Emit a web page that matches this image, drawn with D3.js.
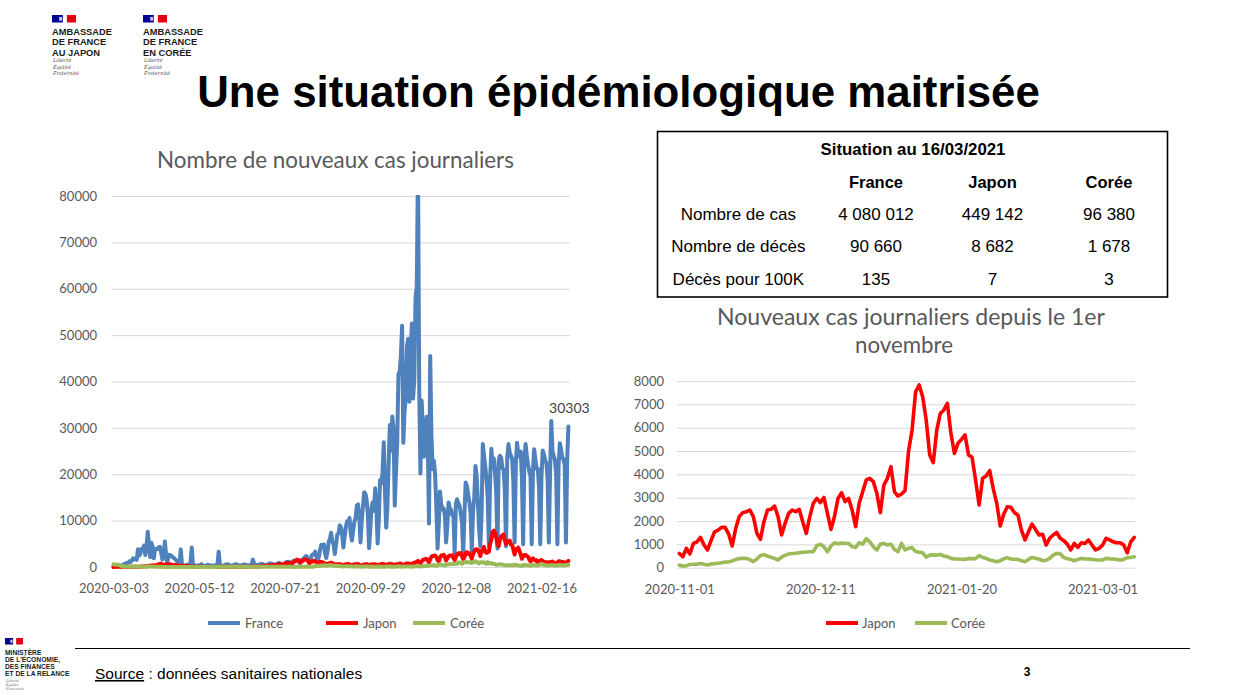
<!DOCTYPE html>
<html><head><meta charset="utf-8">
<script src="https://cdn.jsdelivr.net/npm/d3@7"></script>
<style>body{margin:0;background:#fff}svg{display:block}</style>
</head><body>
<svg id="chart" width="1238" height="695"></svg>
<script>
// ---------------- DATA ----------------
const leftStart = "2020-03-03";
const rightStart = "2020-11-01";
const endDate = "2021-03-10";
const leftXTicks = ["2020-03-03","2020-05-12","2020-07-21","2020-09-29","2020-12-08","2021-02-16"];
const rightXTicks = ["2020-11-01","2020-12-11","2021-01-20","2021-03-01"];
const leftYTicks = [0,10000,20000,30000,40000,50000,60000,70000,80000];
const rightYTicks = [0,1000,2000,3000,4000,5000,6000,7000,8000];
const seriesNames = ["France","Japon","Corée"];
const seriesColors = ["#4F81BD","#FF0000","#9BBB59"];

// France: daily new cases from 2020-03-03 to 2021-03-10 (rows of 7 days)
const france = [
20,70,140,190,340,180,290,
370,500,600,790,840,920,1210,
1100,1400,1860,1620,1850,1560,3840,
2450,2930,3920,3810,4610,2600,4380,
7580,4860,2120,5230,4270,1870,3910,
3780,3880,4290,4340,3110,1610,2670,
5500,2630,800,2640,2570,2500,2200,
2000,1800,1500,1200,900,500,3800,
500,400,350,300,450,400,600,
1000,4200,500,400,350,300,250,
400,350,600,300,250,200,350,
500,400,300,350,250,200,400,
300,400,3300,600,300,250,300,
400,500,600,550,400,250,300,
400,500,600,500,400,300,350,
400,450,550,500,400,300,350,
500,600,1600,700,500,400,400,
500,600,700,600,500,400,450,
550,650,800,700,650,500,400,
600,700,900,800,700,500,600,
800,1000,1100,1130,1000,700,900,
1300,1400,1400,1350,1300,900,1000,
1600,1700,1900,2300,2300,1300,1400,
1400,2500,2700,2850,3300,2000,1600,
2200,3800,4770,4590,4900,3000,1950,
3300,5430,6110,7380,5450,4900,2800,
4980,7020,7160,8980,8550,7070,4200,
6540,8580,9840,9410,10560,7180,5700,
7850,9780,10590,13220,13500,10570,5300,
10010,13070,16100,15800,14410,11120,4070,
8050,12850,13970,12150,16970,12570,5080,
10490,18750,18130,20340,26900,16100,8500,
12990,22590,30620,25090,32430,29840,13240,
20470,26680,41620,42030,45420,52010,26770,
33420,36440,47640,49220,35640,46290,52520,
36330,40560,58050,60490,86850,38620,20160,
35880,29000,23800,28000,32400,27200,9400,
45500,28400,21150,22900,20000,13200,4000,
9160,16280,13560,12460,12580,11020,5300,
9000,13900,12700,12400,11200,11000,3100,
13700,14600,13750,13200,11530,9600,2800,
11530,18200,17500,15670,14000,11700,3500,
12000,15000,21800,19500,14000,8000,4500,
11400,26500,24000,21800,19000,15000,4500,
19000,25500,21700,23400,20200,15900,4000,
23000,24000,23600,21300,21000,16600,4500,
23600,26500,24700,24000,23300,18300,5300,
22100,26800,24300,23800,24900,19200,4900,
23300,26500,24000,22100,20600,19700,4900,
20600,25400,23200,21200,21200,17000,4900,
19600,25100,24300,23000,22400,19000,5300,
20100,31500,25000,24000,23000,20000,4900,
22000,26700,25400,23500,23300,21800,5300,
23000,30303];

// Japan: 2020-03-03 .. 2020-10-31
const japanToOct = [
15,30,30,55,45,40,25,
55,50,55,60,40,60,15,
40,45,40,55,50,40,40,
70,95,95,110,200,190,90,
220,260,240,350,360,380,250,
350,520,580,710,700,560,400,
480,550,580,560,580,570,370,
390,440,430,400,350,200,170,
280,250,180,170,300,200,90,
120,100,130,100,90,40,70,
80,50,95,60,30,25,20,
30,40,30,25,20,15,20,
30,35,60,40,45,50,30,
50,30,45,40,45,50,25,
40,40,45,40,40,50,70,
40,40,40,40,60,80,50,
70,100,110,100,90,130,90,
130,120,190,250,270,210,210,
200,330,350,430,390,410,260,
340,470,600,620,600,500,420,
630,800,980,770,820,920,600,
1000,1250,1300,1600,1540,1330,960,
1250,1350,1600,1600,1560,1440,800,
1000,1180,1180,1360,1230,1010,700,
1000,1110,1080,1030,900,750,480,
660,750,880,900,850,600,420,
580,600,590,620,560,440,280,
520,520,640,650,560,420,280,
500,580,590,580,640,470,290,
270,500,550,530,640,500,320,
470,570,560,550,600,460,270,
500,540,630,690,600,500,310,
540,620,700,620,620,420,380,
600,610,560,750,700,530,350,
510,700,780,760,690];

// Japan: 2020-11-01 .. 2021-03-10
const japanFromNov = [
610,470,830,590,1040,1110,1300,970,760,1160,
1540,1610,1730,1730,1440,930,1690,2190,2360,2400,
2470,2190,1470,1210,1970,2470,2500,2640,2190,1400,
1900,2330,2470,2400,2500,1970,1470,2190,2760,2970,
2790,3010,2330,1640,2190,2970,3210,2830,2970,2470,
1760,2760,3260,3760,3830,3690,3190,2360,3540,3830,
4330,3250,3070,3160,
3300,5000,5900,7540,7830,7330,6330,4830,4500,5900,
6610,6760,7040,5760,4900,5330,5500,5690,4830,4730,
3760,2690,3830,3930,4160,3400,2760,1790,2300,2610,
2590,2360,2260,1610,1190,1540,1870,1640,1400,1430,
970,1260,1400,1510,1260,1160,1010,760,1040,870,
1070,1040,1190,970,760,830,970,1260,1190,1110,
1070,1070,970,640,1110,1300];

// Korea: 2020-03-03 .. 2020-10-31
const koreaToOct = [
600,520,440,520,480,370,250,
130,240,115,110,105,75,75,
85,95,150,90,150,100,65,
75,100,105,90,145,105,80,
125,100,90,85,95,80,45,
50,40,40,25,30,30,25,
25,25,20,20,20,10,15,
10,10,10,5,10,10,10,
15,10,5,10,5,15,10,
5,5,5,15,20,35,30,
25,25,30,25,20,15,15,
15,30,20,25,25,15,20,
20,40,80,60,40,30,35,
40,50,40,40,55,55,40,
40,50,45,55,50,35,35,
35,45,60,50,65,50,15,
45,50,30,40,50,60,40,
40,50,55,60,60,60,50,
45,65,50,35,45,35,60,
35,40,55,60,40,35,45,
45,60,65,40,115,60,25,
50,20,35,35,30,25,35,
35,20,40,45,35,30,35,
50,55,55,105,165,280,200,
245,300,290,325,330,400,265,
280,320,440,370,325,300,250,
235,265,200,200,170,170,120,
135,155,175,175,135,120,110,
105,115,155,125,110,80,70,
60,110,125,115,115,95,50,
40,110,75,60,65,65,75,
115,70,55,55,70,60,95,
100,85,110,50,75,60,75,
60,90,120,155,75,60,120,
90,110,125,115,125];

// Korea: 2020-11-01 .. 2021-03-10
const koreaFromNov = [
115,60,80,140,150,145,185,150,120,160,
175,190,215,240,255,290,350,390,400,400,
340,260,370,520,560,500,450,400,330,450,
530,590,610,620,640,660,670,685,690,950,
1000,900,685,930,1070,1030,1060,1050,1040,900,
870,1070,1010,1240,1110,900,760,1010,1040,970,
1010,780,690,1040,760,830,860,690,660,640,
450,540,550,540,
570,500,470,400,370,370,360,355,400,380,
390,515,440,400,330,300,255,300,380,430,
370,360,355,300,255,355,440,400,370,300,
320,400,540,615,600,440,380,355,300,355,
400,370,370,355,340,330,330,400,380,370,
355,330,355,430,440,470];

const tableTitle = "Situation au 16/03/2021";
const tableCols = ["France","Japon","Corée"];
const tableRows = ["Nombre de cas","Nombre de décès","Décès pour 100K"];
const tableValues = [["4 080 012","449 142","96 380"],["90 660","8 682","1 678"],["135","7","3"]];

// ---------------- DRAW ----------------
const svg = d3.select("#chart");
const CF = "Lato, 'Open Sans', sans-serif";
const AF = "'Liberation Sans', Arial, sans-serif";
const GREY = "#595959";
const parse = d3.utcParse("%Y-%m-%d");
const fmt = d3.utcFormat("%Y-%m-%d");

function fit(sel, w){
  const L = sel.node().getComputedTextLength();
  if (L > 0) sel.attr("font-size", parseFloat(sel.attr("font-size")) * w / L);
  return sel;
}
function txt(x, y, s, size, opts = {}){
  const t = svg.append("text").attr("x", x).attr("y", y).text(s)
    .attr("font-size", size).attr("font-family", opts.family || AF)
    .attr("fill", opts.fill || "#000")
    .attr("text-anchor", opts.anchor || "start");
  if (opts.bold) t.attr("font-weight", "bold");
  if (opts.italic) t.attr("font-style", "italic");
  if (opts.width) fit(t, opts.width);
  return t;
}

// logos
function flag(x, y, w, h){
  svg.append("rect").attr("x", x).attr("y", y).attr("width", w*0.45).attr("height", h).attr("fill", "#000091");
  svg.append("rect").attr("x", x + w*0.62).attr("y", y).attr("width", w*0.38).attr("height", h).attr("fill", "#E1000F");
  svg.append("rect").attr("x", x + w*0.3).attr("y", y + h*0.25).attr("width", w*0.12).attr("height", h*0.5).attr("fill", "#c9c9e6");
}
function embassy(x, lines){
  flag(x, 15, 24, 7.5);
  txt(x, 34.5, lines[0], 9.3, {bold:true, fill:"#1a1a1a"});
  txt(x, 45, lines[1], 9.3, {bold:true, fill:"#1a1a1a"});
  txt(x, 55.5, lines[2], 9.3, {bold:true, fill:"#1a1a1a"});
  ["Liberté","Égalité","Fraternité"].forEach((s, i) =>
    txt(x + 1, 62 + i*6.7, s, 5, {italic:true, fill:"#444", family:"'DejaVu Serif', serif"}));
}
embassy(52, ["AMBASSADE","DE FRANCE","AU JAPON"]);
embassy(143, ["AMBASSADE","DE FRANCE","EN CORÉE"]);

// title
txt(618.5, 107, "Une situation épidémiologique maitrisée", 40, {bold:true, anchor:"middle", width:843});

// ---------- chart helper ----------
function lineChart(cfg){
  const g = svg.append("g");
  const x = d3.scaleUtc().domain([parse(cfg.start), parse(endDate)]).range(cfg.xr);
  const y = d3.scaleLinear().domain([0, cfg.ymax]).range(cfg.yr);
  const ya = g.append("g").attr("transform", `translate(${cfg.gx[0]},0)`)
    .call(d3.axisLeft(y).tickValues(cfg.yTicks).tickSize(-(cfg.gx[1]-cfg.gx[0])).tickPadding(cfg.pad).tickFormat(d3.format("d")));
  ya.select(".domain").remove();
  ya.selectAll("line").attr("stroke", "#D9D9D9").attr("stroke-width", 1);
  ya.selectAll("text").attr("fill", GREY).attr("font-family", CF).attr("font-size", 13);
  const xa = g.append("g").attr("transform", `translate(0,${cfg.yr[0]})`)
    .call(d3.axisBottom(x).tickValues(cfg.xTicks.map(parse)).tickSize(0).tickPadding(17).tickFormat(fmt));
  xa.select(".domain").remove();
  xa.selectAll("text").attr("fill", GREY).attr("font-family", CF).attr("font-size", 13);
  const clipId = "clip" + cfg.id;
  g.append("clipPath").attr("id", clipId).append("rect")
    .attr("x", cfg.gx[0]-5).attr("y", cfg.yr[1]-1).attr("width", cfg.gx[1]-cfg.gx[0]+10).attr("height", cfg.yr[0]-cfg.yr[1]+6);
  const start = parse(cfg.start);
  cfg.series.forEach(s => {
    const line = d3.line().x((d, i) => x(d3.utcDay.offset(start, i))).y(d => y(d));
    g.append("path").datum(s.values).attr("d", line).attr("fill", "none")
      .attr("stroke", s.color).attr("stroke-width", cfg.sw).attr("stroke-linejoin", "round").attr("stroke-linecap", "round")
      .attr("clip-path", `url(#${clipId})`);
  });
  return {x, y, g};
}

// left chart
txt(335.5, 168, "Nombre de nouveaux cas journaliers", 20, {family:CF, fill:GREY, anchor:"middle", width:357});
const japanAll = japanToOct.concat(japanFromNov);
const koreaAll = koreaToOct.concat(koreaFromNov);
const left = lineChart({
  id:"L", start:leftStart, xr:[113.5, 568.4], gx:[112, 570], yr:[567, 196], ymax:80000,
  yTicks:leftYTicks, xTicks:leftXTicks, pad:15, sw:4,
  series:[{values:france, color:seriesColors[0]},{values:japanAll, color:seriesColors[1]},{values:koreaAll, color:seriesColors[2]}]
});
// data label
const lastI = france.length - 1;
txt(left.x(d3.utcDay.offset(parse(leftStart), lastI)) + 1, left.y(france[lastI]) - 13, String(france[lastI]), 14,
  {family:CF, fill:"#404040", anchor:"middle"});

// legend left
[[208, 0],[326, 1],[413, 2]].forEach(([lx, k]) => {
  svg.append("line").attr("x1", lx).attr("x2", lx+32).attr("y1", 623).attr("y2", 623)
    .attr("stroke", seriesColors[k]).attr("stroke-width", 4);
  txt(lx + 37, 627.5, seriesNames[k], 13, {family:CF, fill:GREY});
});

// table
svg.append("rect").attr("x", 657.5).attr("y", 131.5).attr("width", 510).attr("height", 165.5)
  .attr("fill", "#fff").attr("stroke", "#000").attr("stroke-width", 1.6);
txt(913, 154.5, tableTitle, 16, {bold:true, anchor:"middle", width:185});
const colX = [876, 992.5, 1109];
const rowY = [219.5, 252, 285];
tableCols.forEach((c, i) => txt(colX[i], 188, c, 16.5, {bold:true, anchor:"middle"}));
tableRows.forEach((r, j) => {
  txt(738.3, rowY[j], r, 17, {anchor:"middle"});
  tableValues[j].forEach((v, i) => txt(colX[i], rowY[j], v, 17, {anchor:"middle"}));
});

// right chart
txt(911, 325, "Nouveaux cas journaliers depuis le 1er", 20, {family:CF, fill:GREY, anchor:"middle", width:388});
txt(904, 353, "novembre", 20, {family:CF, fill:GREY, anchor:"middle", width:98});
lineChart({
  id:"R", start:rightStart, xr:[679.3, 1134.3], gx:[677, 1135], yr:[567.7, 381], ymax:8000,
  yTicks:rightYTicks, xTicks:rightXTicks, pad:13, sw:3.6,
  series:[{values:japanFromNov, color:seriesColors[1]},{values:koreaFromNov, color:seriesColors[2]}]
});
[[826, 1],[915, 2]].forEach(([lx, k]) => {
  svg.append("line").attr("x1", lx).attr("x2", lx+32).attr("y1", 623).attr("y2", 623)
    .attr("stroke", seriesColors[k]).attr("stroke-width", 4);
  txt(lx + 36, 627.5, seriesNames[k], 13, {family:CF, fill:GREY});
});

// footer
svg.append("line").attr("x1", 75).attr("x2", 1190).attr("y1", 648.5).attr("y2", 648.5).attr("stroke", "#000").attr("stroke-width", 1.2);
flag(5, 638, 18, 6.5);
["MINISTÈRE","DE L'ÉCONOMIE,","DES FINANCES","ET DE LA RELANCE"].forEach((s, i) =>
  txt(5, 655 + i*7, s, 6.7, {bold:true, fill:"#1a1a1a"}));
["Liberté","Égalité","Fraternité"].forEach((s, i) =>
  txt(6, 682 + i*4, s, 3.5, {italic:true, fill:"#555", family:"'DejaVu Serif', serif"}));
const src = txt(95, 679, "", 15.5, {});
src.append("tspan").attr("text-decoration", "underline").text("Source");
src.append("tspan").text(" : données sanitaires nationales");
txt(1027, 676, "3", 12, {bold:true, anchor:"middle"});
</script>
</body></html>
